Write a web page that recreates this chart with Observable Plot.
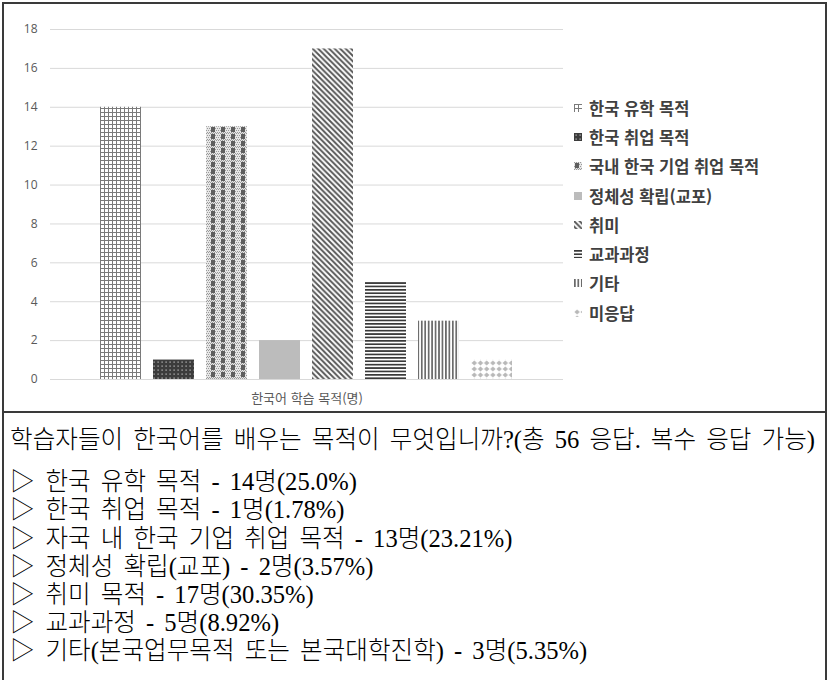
<!DOCTYPE html>
<html lang="ko">
<head>
<meta charset="utf-8">
<script src="https://cdn.jsdelivr.net/npm/d3@7"></script>
<script src="https://cdn.jsdelivr.net/npm/@observablehq/plot@0.6"></script>
<style>
  html, body { margin: 0; padding: 0; background: #fff; }
  #page { position: relative; width: 829px; height: 680px; overflow: hidden; }
  #chart { position: absolute; left: 0; top: 0; }
  .box { position: absolute; border: 2px solid #3a3a3a; box-sizing: border-box; }
  #legend { position: absolute; left: 574px; top: 93px; font-family: "Noto Sans CJK KR", sans-serif;
            font-weight: 700; font-size: 16.5px; color: #404040; }
  .item { height: 29.3px; display: flex; align-items: center; }
  .item svg { width: 8px; height: 8px; margin-right: 7px; flex: none; }
  #notes { position: absolute; left: 0; top: 426px; width: 829px;
           font-family: "Liberation Serif", "Noto Sans CJK KR", serif; font-size: 25px; font-weight: 300; color: #000; }
  #notes .line { position: relative; white-space: nowrap; transform-origin: 0 50%; height: 28.2px; line-height: 28.2px; word-spacing: 4px; }
  #notes .mark { display: inline-block; width: 36px; }
</style>
</head>
<body>
<div id="page">
  <div id="chart"></div>
  <div id="legend"></div>
  <div class="box" style="left:2px; top:2px; width:825px; height:411px;"></div>
  <div class="box" style="left:2px; top:411px; width:825px; height:300px;"></div>
  <div id="notes"></div>
</div>
<script>
// Purposes for learning Korean and the number of respondents for each
const categories = ["한국 유학 목적", "한국 취업 목적", "국내 한국 기업 취업 목적", "정체성 확립(교포)",
                    "취미", "교과과정", "기타", "미응답"];
const counts = [14, 1, 13, 2, 17, 5, 3, 1];
const yTicks = [0, 2, 4, 6, 8, 10, 12, 14, 16, 18];
const axisTitle = "한국어 학습 목적(명)";

// Survey summary printed under the chart
const question = "학습자들이 한국어를 배우는 목적이 무엇입니까?(총 56 응답. 복수 응답 가능)";
const noteLabels = ["한국 유학 목적", "한국 취업 목적", "자국 내 한국 기업 취업 목적", "정체성 확립(교포)",
                    "취미 목적", "교과과정", "기타(본국업무목적 또는 본국대학진학)"];
const noteCounts = [14, 1, 13, 2, 17, 5, 3];
const notePercents = ["25.0", "1.78", "23.21", "3.57", "30.35", "8.92", "5.35"];

const patternIds = categories.map((_, i) => `pat${i}`);
const data = categories.map((c, i) => ({category: c, count: counts[i]}));

const chart = Plot.plot({
  width: 829,
  height: 411,
  marginLeft: 50,
  marginRight: 266,
  marginTop: 29,
  marginBottom: 32,
  style: {fontFamily: "'Open Sans', 'Noto Sans CJK KR', sans-serif", fontSize: "12px", color: "#595959", background: "transparent"},
  x: {domain: categories, paddingInner: 0.22, paddingOuter: 0.878, axis: null},
  y: {domain: [0, 18]},
  color: {type: "ordinal", domain: categories, range: patternIds.map(id => `url(#${id})`)},
  marks: [
    Plot.gridY(yTicks, {stroke: "#d9d9d9", strokeOpacity: 1, strokeWidth: 1}),
    Plot.axisY(yTicks, {tickSize: 0, tickPadding: 13, label: null, fill: "#595959", fontSize: 12}),
    Plot.barY(data, {x: "category", y: "count", fill: "category"}),
    Plot.text([axisTitle], {frameAnchor: "bottom", lineAnchor: "middle", dy: 19,
      fontFamily: "'Noto Sans CJK KR', sans-serif", fontSize: 13, fill: "#595959"})
  ]
});

// Fill patterns for the bars and the legend swatches
function addPatterns(svgSel) {
  const defs = svgSel.insert("defs", ":first-child");
  const mk = (id, w, h) => defs.append("pattern").attr("id", id)
    .attr("patternUnits", "userSpaceOnUse").attr("width", w).attr("height", h);
  // small grid
  let p = mk("pat0", 4, 4);
  p.append("rect").attr("width", 4).attr("height", 4).attr("fill", "#fff");
  p.append("path").attr("d", "M0 0.5H4M0.5 0V4").attr("stroke", "#7a7a7a").attr("stroke-width", 1);
  // dark with light dots
  p = mk("pat1", 4, 4);
  p.append("rect").attr("width", 4).attr("height", 4).attr("fill", "#3c3c3c");
  p.append("rect").attr("x", 1.5).attr("y", 1.5).attr("width", 1.2).attr("height", 1.2).attr("fill", "#c8c8c8");
  // blocks over a fine checker
  p = mk("pat2", 10, 7);
  p.append("rect").attr("width", 10).attr("height", 7).attr("fill", "#e6e6e6");
  for (let yy = 0; yy < 7; yy += 2) for (let xx = (yy / 2) % 2; xx < 10; xx += 2)
    p.append("rect").attr("x", xx).attr("y", yy).attr("width", 1).attr("height", 1).attr("fill", "#9a9a9a");
  p.append("rect").attr("x", 1).attr("y", 1).attr("width", 4).attr("height", 5).attr("fill", "#5e5e5e");
  // solid light gray
  p = mk("pat3", 4, 4);
  p.append("rect").attr("width", 4).attr("height", 4).attr("fill", "#bcbcbc");
  // diagonal stripes
  p = mk("pat4", 5.5, 5.5);
  p.append("rect").attr("width", 5.5).attr("height", 5.5).attr("fill", "#fff");
  p.append("path").attr("d", "M-1 -1L6.5 6.5M-1 4.5L1 6.5M4.5 -1L6.5 1")
    .attr("stroke", "#555").attr("stroke-width", 1.9);
  // horizontal lines
  p = mk("pat5", 4, 3.4);
  p.append("rect").attr("width", 4).attr("height", 3.4).attr("fill", "#fff");
  p.append("rect").attr("y", 0).attr("width", 4).attr("height", 1.7).attr("fill", "#3a3a3a");
  // vertical lines
  p = mk("pat6", 3.45, 4);
  p.append("rect").attr("width", 3.45).attr("height", 4).attr("fill", "#fff");
  p.append("rect").attr("x", 0).attr("width", 1.7).attr("height", 4).attr("fill", "#6a6a6a");
  // light diamonds
  p = mk("pat7", 6.2, 6);
  p.append("rect").attr("width", 6.2).attr("height", 6).attr("fill", "#fff");
  p.append("path").attr("d", "M3.1 0.4L5.8 3L3.1 5.6L0.4 3Z").attr("fill", "#b8b8b8");
}
addPatterns(d3.select(chart));
document.getElementById("chart").append(chart);

// Legend on the right of the plot
const legend = d3.select("#legend");
categories.forEach((c, i) => {
  const row = legend.append("div").attr("class", "item");
  row.append("svg").attr("viewBox", "0 0 8 8")
    .append("rect").attr("width", 8).attr("height", 8).attr("fill", `url(#${patternIds[i]})`);
  row.append("span").text(c);
});

// Survey summary text
const notes = d3.select("#notes");
const lines = [{text: question}, null].concat(noteLabels.map((l, i) =>
  ({mark: "▷", text: `${l} - ${noteCounts[i]}명(${notePercents[i]}%)`})));
const divs = [];
lines.forEach(t => {
  const d = notes.append("div").attr("class", "line");
  if (t === null) { d.style("height", "14px"); return; }
  if (t.mark) d.append("span").attr("class", "mark").text(t.mark);
  const span = d.append("span").text(t.text);
  divs.push({d, span});
});
// condense the printed text horizontally so the question spans the box width
const natural = divs[0].span.node().getBoundingClientRect().width;
const sx = 805 / natural;
divs.forEach(({d}) => d.style("transform", `scaleX(${sx})`).style("left", "10px"));
</script>
</body>
</html>
